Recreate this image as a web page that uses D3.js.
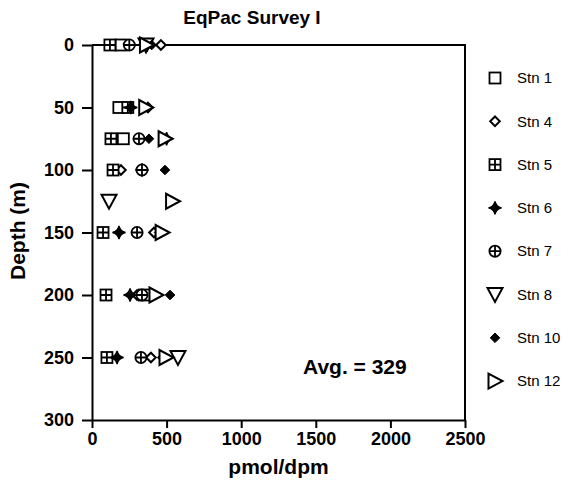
<!DOCTYPE html>
<html>
<head>
<meta charset="utf-8">
<script src="https://cdn.jsdelivr.net/npm/d3@7/dist/d3.min.js"></script>
<style>
  html, body { margin: 0; padding: 0; background: #fff; }
  svg { display: block; font-family: "Liberation Sans", Arial, sans-serif; }
</style>
</head>
<body>
<svg id="chart" width="563" height="492"></svg>
<script>
// Sample depths (m) and per-station ratios (pmol/dpm); null = no sample
const depths = [0, 50, 75, 100, 125, 150, 200, 250];
const stn1  = [195, 180, 210, null, null, null, 350, null];
const stn4  = [462, 375, 130, 194, null, 415, 302, 395];
const stn5  = [120, 240, 127, 141, null, 74, 94, 100];
const stn6  = [370, 260, 500, 335, null, 181, 255, 168];
const stn7  = [250, null, 315, 335, null, 302, 335, 328];
const stn8  = [362, null, null, null, 114, null, null, 576];
const stn10 = [400, null, 382, 489, null, 450, 523, 470];
const stn12 = [365, 360, 490, null, 540, 470, 429, 496];

const stationNames = ["Stn 1", "Stn 4", "Stn 5", "Stn 6", "Stn 7", "Stn 8", "Stn 10", "Stn 12"];
const stationValues = [stn1, stn4, stn5, stn6, stn7, stn8, stn10, stn12];
const markerKinds = ["square", "diamondOpen", "squarePlus", "star", "circlePlus", "triDown", "diamondFilled", "triRight"];

const xTicks = [0, 500, 1000, 1500, 2000, 2500];
const yTicks = [0, 50, 100, 150, 200, 250, 300];
const avgLabel = "Avg. = 329";

const svg = d3.select("#chart");
const x = d3.scaleLinear().domain([0, 2500]).range([92, 465]);
const y = d3.scaleLinear().domain([0, 300]).range([45, 420]);

// marker drawing: each kind appended into a group centred at (0,0)
function drawMarker(g, kind) {
  const sw = 1.8;
  switch (kind) {
    case "square":
      g.append("rect").attr("x", -5.5).attr("y", -5.5).attr("width", 11).attr("height", 11)
        .attr("fill", "#fff").attr("stroke", "#000").attr("stroke-width", sw);
      break;
    case "diamondOpen":
      g.append("path").attr("d", "M0,-4.8L4.8,0L0,4.8L-4.8,0Z")
        .attr("fill", "#fff").attr("stroke", "#000").attr("stroke-width", 2);
      break;
    case "squarePlus":
      g.append("rect").attr("x", -5.5).attr("y", -5.5).attr("width", 11).attr("height", 11)
        .attr("fill", "#fff").attr("stroke", "#000").attr("stroke-width", sw);
      g.append("path").attr("d", "M0,-5.5V5.5M-5.5,0H5.5").attr("stroke", "#000").attr("stroke-width", sw);
      break;
    case "star":
      g.append("path").attr("d", "M0,-6.5Q1.3,-1.3 6.5,0Q1.3,1.3 0,6.5Q-1.3,1.3 -6.5,0Q-1.3,-1.3 0,-6.5Z")
        .attr("fill", "#000").attr("stroke", "#000").attr("stroke-width", 1.3);
      break;
    case "circlePlus":
      g.append("circle").attr("r", 5.6)
        .attr("fill", "#fff").attr("stroke", "#000").attr("stroke-width", sw);
      g.append("path").attr("d", "M0,-5.6V5.6M-5.6,0H5.6").attr("stroke", "#000").attr("stroke-width", sw);
      break;
    case "triDown":
      g.append("path").attr("d", "M-7.5,-6.5H7.5L0,7.5Z")
        .attr("fill", "#fff").attr("stroke", "#000").attr("stroke-width", 2);
      break;
    case "diamondFilled":
      g.append("path").attr("d", "M0,-4.8L4.8,0L0,4.8L-4.8,0Z")
        .attr("fill", "#000").attr("stroke", "#000").attr("stroke-width", 1);
      break;
    case "triRight":
      g.append("path").attr("d", "M-6.5,-7.5V7.5L7.5,0Z")
        .attr("fill", "#fff").attr("stroke", "#000").attr("stroke-width", 2);
      break;
  }
}

// plot frame (top and right edges)
svg.append("path")
  .attr("d", `M${x(0)},${y(0)}H${x(2500)}V${y(300)}`)
  .attr("fill", "none").attr("stroke", "#000").attr("stroke-width", 2);

// axes
const yAxis = svg.append("g").attr("transform", `translate(${x(0)},0)`)
  .call(d3.axisLeft(y).tickValues(yTicks).tickSize(10).tickPadding(8).tickSizeOuter(0));
const xAxis = svg.append("g").attr("transform", `translate(0,${y(300)})`)
  .call(d3.axisBottom(x).tickValues(xTicks).tickFormat(d3.format("d"))
    .tickSize(8).tickPadding(4).tickSizeOuter(0));
[xAxis, yAxis].forEach(a => {
  a.select(".domain").attr("stroke-width", 2);
  a.selectAll(".tick line").attr("stroke-width", 2);
  a.selectAll(".tick text").attr("font-size", 18).attr("font-weight", "bold")
    .attr("font-family", "Liberation Sans, Arial, sans-serif").attr("fill", "#000");
});

// data markers
stationValues.forEach((vals, i) => {
  const pts = depths.map((d, j) => ({ depth: d, value: vals[j] })).filter(p => p.value !== null);
  const grp = svg.append("g").attr("class", "series");
  pts.forEach(p => {
    const g = grp.append("g").attr("transform", `translate(${x(p.value)},${y(p.depth)})`);
    drawMarker(g, markerKinds[i]);
  });
});

// legend
const leg = svg.append("g");
stationNames.forEach((name, i) => {
  const ly = 78 + i * 43.3;
  const g = leg.append("g").attr("transform", `translate(495,${ly})`);
  drawMarker(g, markerKinds[i]);
  leg.append("text").attr("x", 517).attr("y", ly).attr("dy", "0.35em")
    .attr("font-size", 15).text(name);
});

// titles
svg.append("text").attr("x", 252).attr("y", 24).attr("text-anchor", "middle")
  .attr("font-size", 19).attr("font-weight", "bold").text("EqPac Survey I");
svg.append("text").attr("x", x(1250)).attr("y", 474).attr("text-anchor", "middle")
  .attr("font-size", 21).attr("font-weight", "bold").text("pmol/dpm");
svg.append("text").attr("transform", `translate(25,231) rotate(-90)`)
  .attr("text-anchor", "middle").attr("font-size", 21).attr("font-weight", "bold").text("Depth (m)");
svg.append("text").attr("x", 303).attr("y", 374)
  .attr("font-size", 21).attr("font-weight", "bold").text(avgLabel);
</script>
</body>
</html>
